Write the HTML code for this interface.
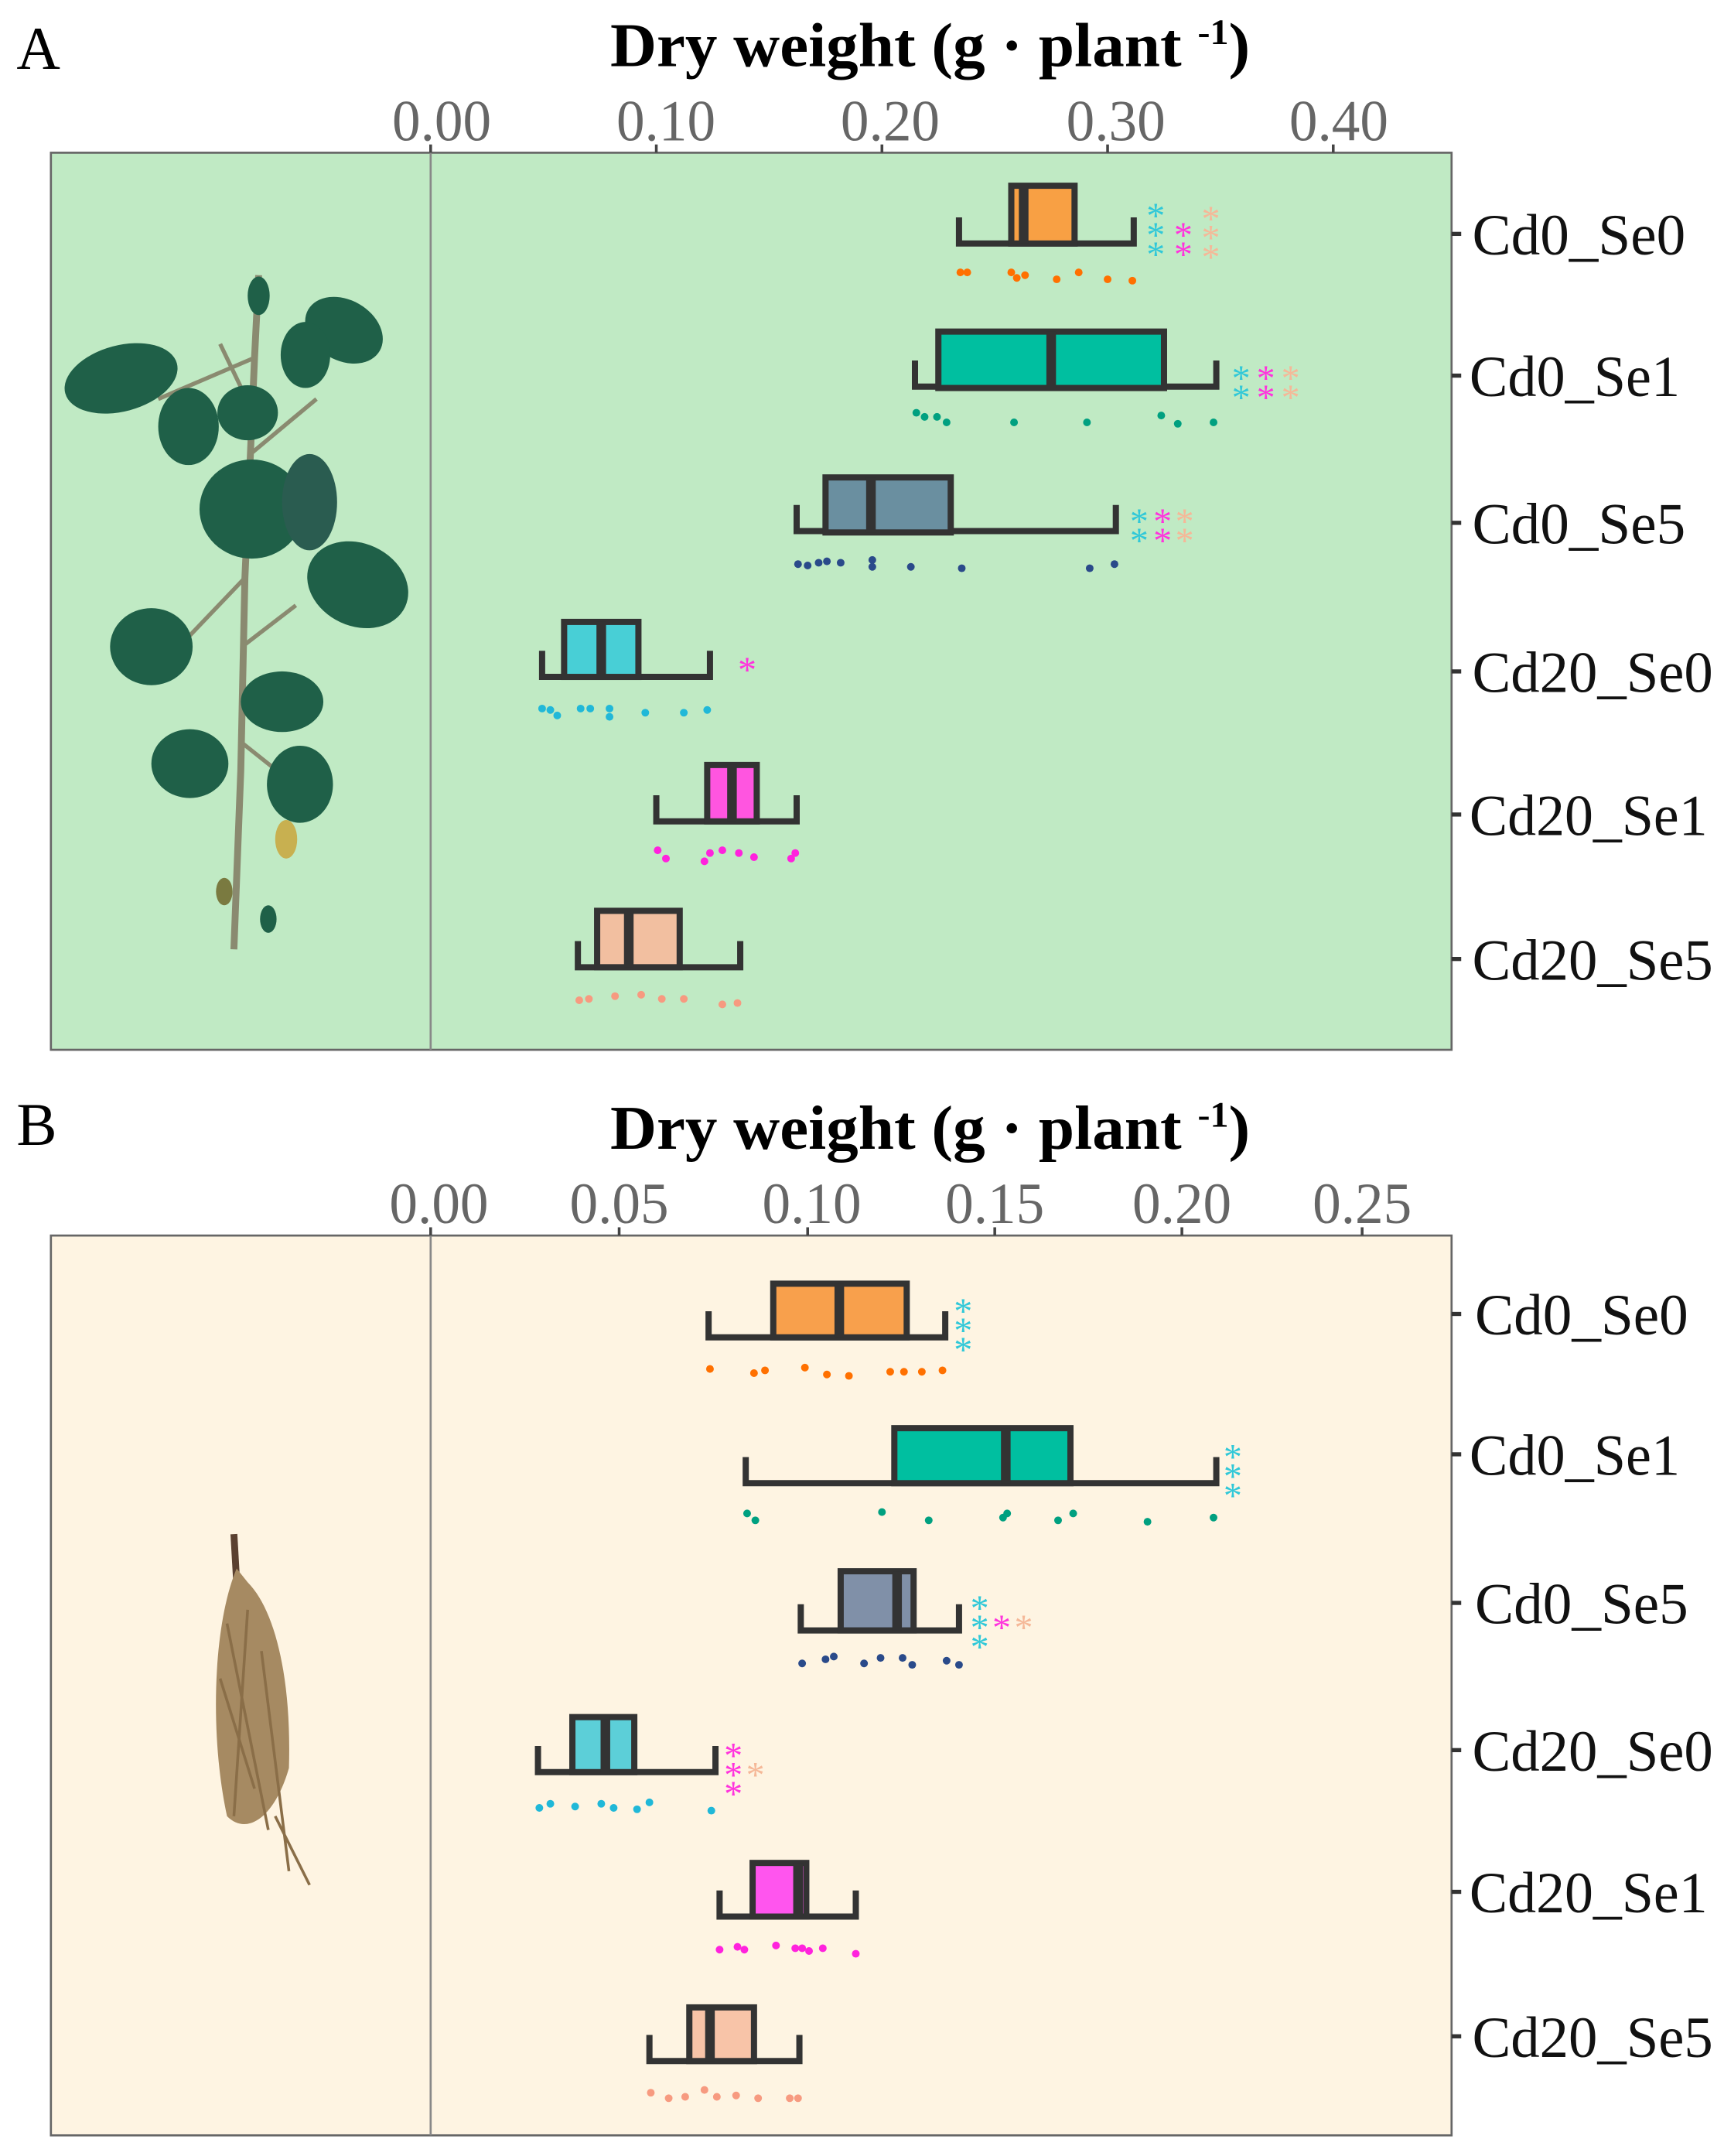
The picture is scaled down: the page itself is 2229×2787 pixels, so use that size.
<!DOCTYPE html>
<html><head><meta charset="utf-8"><style>
html,body{margin:0;padding:0;background:#fff;}
svg{display:block;}
text{font-family:"Liberation Serif",serif;}
.t{font-size:42px;fill:#666;text-anchor:middle;}
.c{font-size:42px;fill:#111;}
.h{font-size:45px;font-weight:bold;text-anchor:middle;fill:#000;}
.b{stroke:#333;stroke-width:4.5;}
.w{fill:none;stroke:#333;stroke-width:4.5;}
.m{stroke:#333;stroke-width:7;}
.s{font-size:27px;text-anchor:middle;font-family:"DejaVu Sans",sans-serif;}
</style></head><body>
<svg width="2229" height="2787" viewBox="0 0 1253 1567" preserveAspectRatio="none" xmlns="http://www.w3.org/2000/svg">
<!-- Panel A -->
<text x="12" y="50" style="font-size:44px">A</text>
<text x="676" y="48" class="h" textLength="465" lengthAdjust="spacingAndGlyphs">Dry weight (g · plant <tspan dy="-16" style="font-size:26px">-1</tspan><tspan dy="16">)</tspan></text>
<rect x="37" y="111" width="1018" height="652" fill="#C0EAC4" stroke="#666" stroke-width="1.5"/>
<line x1="313" y1="111" x2="313" y2="763" stroke="#888" stroke-width="1.5"/>
<g class="t">
<text x="321" y="102" textLength="72" lengthAdjust="spacingAndGlyphs">0.00</text><text x="484" y="102" textLength="72" lengthAdjust="spacingAndGlyphs">0.10</text><text x="647" y="102" textLength="72" lengthAdjust="spacingAndGlyphs">0.20</text><text x="811" y="102" textLength="72" lengthAdjust="spacingAndGlyphs">0.30</text><text x="973" y="102" textLength="72" lengthAdjust="spacingAndGlyphs">0.40</text>
</g>
<g stroke="#444" stroke-width="2"><line x1="313" y1="105" x2="313" y2="111"/><line x1="477" y1="105" x2="477" y2="111"/><line x1="641" y1="105" x2="641" y2="111"/><line x1="805" y1="105" x2="805" y2="111"/><line x1="969" y1="105" x2="969" y2="111"/></g>
<g class="c">
<text x="1070" y="185" textLength="155" lengthAdjust="spacingAndGlyphs">Cd0_Se0</text><text x="1068" y="288" textLength="153" lengthAdjust="spacingAndGlyphs">Cd0_Se1</text><text x="1070" y="395" textLength="155" lengthAdjust="spacingAndGlyphs">Cd0_Se5</text><text x="1070" y="503" textLength="175" lengthAdjust="spacingAndGlyphs">Cd20_Se0</text><text x="1068" y="607" textLength="173" lengthAdjust="spacingAndGlyphs">Cd20_Se1</text><text x="1070" y="712" textLength="175" lengthAdjust="spacingAndGlyphs">Cd20_Se5</text>
</g>
<g stroke="#333" stroke-width="3"><line x1="1055" y1="170" x2="1062" y2="170"/><line x1="1055" y1="273" x2="1062" y2="273"/><line x1="1055" y1="380" x2="1062" y2="380"/><line x1="1055" y1="488" x2="1062" y2="488"/><line x1="1055" y1="592" x2="1062" y2="592"/><line x1="1055" y1="697" x2="1062" y2="697"/></g>
<!-- plant -->
<g>
<path d="M170 690 L175 560 L178 420 L182 330 L185 260 L188 200" stroke="#8a8a70" stroke-width="5" fill="none"/>
<path d="M178 420 L135 465 M182 330 L230 290 M185 260 L115 290 M176 540 L220 575 M176 470 L215 440 M184 300 L160 250" stroke="#8a8a70" stroke-width="3" fill="none"/>
<g fill="#1f6048">
<ellipse cx="88" cy="275" rx="42" ry="24" transform="rotate(-15 88 275)"/>
<ellipse cx="137" cy="310" rx="22" ry="28"/>
<ellipse cx="183" cy="370" rx="38" ry="36"/>
<ellipse cx="225" cy="365" rx="20" ry="35" fill="#2a5c50"/>
<ellipse cx="250" cy="240" rx="30" ry="22" transform="rotate(30 250 240)"/>
<ellipse cx="222" cy="258" rx="18" ry="24"/>
<ellipse cx="260" cy="425" rx="38" ry="30" transform="rotate(25 260 425)"/>
<ellipse cx="110" cy="470" rx="30" ry="28"/>
<ellipse cx="205" cy="510" rx="30" ry="22"/>
<ellipse cx="138" cy="555" rx="28" ry="25"/>
<ellipse cx="218" cy="570" rx="24" ry="28"/>
<ellipse cx="180" cy="300" rx="22" ry="20"/>
<ellipse cx="188" cy="215" rx="8" ry="14"/>
<ellipse cx="195" cy="668" rx="6" ry="10"/>
<ellipse cx="163" cy="648" rx="6" ry="10" fill="#7a7a40"/>
</g>
<ellipse cx="208" cy="610" rx="8" ry="14" fill="#c8b050"/>
</g>
<!-- A boxes -->
<path class="w" d="M697 158 V177 H824 V158"/><rect x="735" y="135" width="46" height="42" fill="#F8A044" class="b"/><line class="m" x1="744" y1="135" x2="744" y2="177"/>
<path class="w" d="M665 262 V281 H884 V262"/><rect x="682" y="241" width="164" height="41" fill="#00BFA0" class="b"/><line class="m" x1="764" y1="241" x2="764" y2="282"/>
<path class="w" d="M579 367 V386 H811 V367"/><rect x="600" y="347" width="91" height="40" fill="#6A8FA0" class="b"/><line class="m" x1="633" y1="347" x2="633" y2="387"/>
<path class="w" d="M394 473 V492 H516 V473"/><rect x="410" y="452" width="54" height="40" fill="#48CFD6" class="b"/><line class="m" x1="437" y1="452" x2="437" y2="492"/>
<path class="w" d="M477 578 V597 H579 V578"/><rect x="514" y="556" width="36" height="41" fill="#FF55E0" class="b"/><line class="m" x1="532" y1="556" x2="532" y2="597"/>
<path class="w" d="M420 684 V703 H538 V684"/><rect x="434" y="662" width="60" height="41" fill="#F2BFA0" class="b"/><line class="m" x1="457" y1="662" x2="457" y2="703"/>
<!-- A dots -->
<g fill="#FF7000"><circle cx="698" cy="198" r="2.8"/><circle cx="703" cy="198" r="2.8"/><circle cx="735" cy="198" r="2.8"/><circle cx="739" cy="202" r="2.8"/><circle cx="745" cy="200" r="2.8"/><circle cx="768" cy="203" r="2.8"/><circle cx="784" cy="198" r="2.8"/><circle cx="805" cy="203" r="2.8"/><circle cx="823" cy="204" r="2.8"/></g>
<g fill="#00A080"><circle cx="666" cy="300" r="2.8"/><circle cx="672" cy="303" r="2.8"/><circle cx="681" cy="303" r="2.8"/><circle cx="688" cy="307" r="2.8"/><circle cx="737" cy="307" r="2.8"/><circle cx="790" cy="307" r="2.8"/><circle cx="844" cy="302" r="2.8"/><circle cx="856" cy="308" r="2.8"/><circle cx="882" cy="307" r="2.8"/></g>
<g fill="#2A4A8A"><circle cx="580" cy="410" r="2.8"/><circle cx="587" cy="411" r="2.8"/><circle cx="595" cy="409" r="2.8"/><circle cx="601" cy="408" r="2.8"/><circle cx="611" cy="409" r="2.8"/><circle cx="634" cy="412" r="2.8"/><circle cx="634" cy="407" r="2.8"/><circle cx="662" cy="412" r="2.8"/><circle cx="699" cy="413" r="2.8"/><circle cx="792" cy="413" r="2.8"/><circle cx="810" cy="410" r="2.8"/></g>
<g fill="#20B8D8"><circle cx="394" cy="515" r="2.8"/><circle cx="400" cy="516" r="2.8"/><circle cx="405" cy="520" r="2.8"/><circle cx="422" cy="515" r="2.8"/><circle cx="429" cy="515" r="2.8"/><circle cx="443" cy="515" r="2.8"/><circle cx="443" cy="521" r="2.8"/><circle cx="469" cy="518" r="2.8"/><circle cx="497" cy="518" r="2.8"/><circle cx="514" cy="516" r="2.8"/></g>
<g fill="#FF22DD"><circle cx="478" cy="618" r="2.8"/><circle cx="484" cy="624" r="2.8"/><circle cx="512" cy="626" r="2.8"/><circle cx="516" cy="620" r="2.8"/><circle cx="525" cy="618" r="2.8"/><circle cx="537" cy="620" r="2.8"/><circle cx="548" cy="623" r="2.8"/><circle cx="575" cy="624" r="2.8"/><circle cx="578" cy="620" r="2.8"/></g>
<g fill="#F79A80"><circle cx="421" cy="727" r="2.8"/><circle cx="428" cy="726" r="2.8"/><circle cx="447" cy="724" r="2.8"/><circle cx="466" cy="723" r="2.8"/><circle cx="481" cy="726" r="2.8"/><circle cx="497" cy="726" r="2.8"/><circle cx="525" cy="730" r="2.8"/><circle cx="536" cy="729" r="2.8"/></g>
<!-- A stars -->
<g class="s">
<text x="840" y="166" fill="#30C8D8">*</text><text x="840" y="180" fill="#30C8D8">*</text><text x="840" y="194" fill="#30C8D8">*</text>
<text x="860" y="180" fill="#FF33DD">*</text><text x="860" y="194" fill="#FF33DD">*</text>
<text x="880" y="168" fill="#F5B898">*</text><text x="880" y="182" fill="#F5B898">*</text><text x="880" y="196" fill="#F5B898">*</text>
<text x="902" y="284" fill="#30C8D8">*</text><text x="902" y="298" fill="#30C8D8">*</text><text x="920" y="284" fill="#FF33DD">*</text><text x="920" y="298" fill="#FF33DD">*</text><text x="938" y="284" fill="#F5B898">*</text><text x="938" y="298" fill="#F5B898">*</text>
<text x="828" y="388" fill="#30C8D8">*</text><text x="828" y="402" fill="#30C8D8">*</text><text x="845" y="388" fill="#FF33DD">*</text><text x="845" y="402" fill="#FF33DD">*</text><text x="861" y="388" fill="#F5B898">*</text><text x="861" y="402" fill="#F5B898">*</text>
<text x="543" y="496" fill="#FF33DD">*</text>
</g>

<!-- Panel B -->
<text x="12" y="832" style="font-size:44px">B</text>
<text x="676" y="835" class="h" textLength="465" lengthAdjust="spacingAndGlyphs">Dry weight (g · plant <tspan dy="-16" style="font-size:26px">-1</tspan><tspan dy="16">)</tspan></text>
<rect x="37" y="898" width="1018" height="654" fill="#FEF4E2" stroke="#666" stroke-width="1.5"/>
<line x1="313" y1="898" x2="313" y2="1552" stroke="#888" stroke-width="1.5"/>
<g class="t">
<text x="319" y="889" textLength="72" lengthAdjust="spacingAndGlyphs">0.00</text><text x="450" y="889" textLength="72" lengthAdjust="spacingAndGlyphs">0.05</text><text x="590" y="889" textLength="72" lengthAdjust="spacingAndGlyphs">0.10</text><text x="723" y="889" textLength="72" lengthAdjust="spacingAndGlyphs">0.15</text><text x="859" y="889" textLength="72" lengthAdjust="spacingAndGlyphs">0.20</text><text x="990" y="889" textLength="72" lengthAdjust="spacingAndGlyphs">0.25</text>
</g>
<g stroke="#444" stroke-width="2"><line x1="313" y1="892" x2="313" y2="898"/><line x1="450" y1="892" x2="450" y2="898"/><line x1="587" y1="892" x2="587" y2="898"/><line x1="723" y1="892" x2="723" y2="898"/><line x1="859" y1="892" x2="859" y2="898"/><line x1="990" y1="892" x2="990" y2="898"/></g>
<g class="c">
<text x="1072" y="970" textLength="155" lengthAdjust="spacingAndGlyphs">Cd0_Se0</text><text x="1068" y="1072" textLength="153" lengthAdjust="spacingAndGlyphs">Cd0_Se1</text><text x="1072" y="1180" textLength="155" lengthAdjust="spacingAndGlyphs">Cd0_Se5</text><text x="1070" y="1287" textLength="175" lengthAdjust="spacingAndGlyphs">Cd20_Se0</text><text x="1068" y="1390" textLength="173" lengthAdjust="spacingAndGlyphs">Cd20_Se1</text><text x="1070" y="1495" textLength="175" lengthAdjust="spacingAndGlyphs">Cd20_Se5</text>
</g>
<g stroke="#333" stroke-width="3"><line x1="1055" y1="955" x2="1062" y2="955"/><line x1="1055" y1="1057" x2="1062" y2="1057"/><line x1="1055" y1="1165" x2="1062" y2="1165"/><line x1="1055" y1="1272" x2="1062" y2="1272"/><line x1="1055" y1="1375" x2="1062" y2="1375"/><line x1="1055" y1="1480" x2="1062" y2="1480"/></g>
<!-- root -->
<g>
<path d="M170 1115 L172 1150" stroke="#5a4030" stroke-width="5"/>
<path d="M172 1140 C155 1180 152 1260 165 1320 C180 1335 200 1320 210 1285 C212 1220 200 1170 180 1150 Z" fill="#a68a62"/>
<path d="M165 1180 L195 1330 M180 1170 L170 1320 M190 1200 L210 1360 M200 1320 L225 1370 M160 1220 L185 1300" stroke="#8a6e48" stroke-width="2" fill="none"/>
</g>
<!-- B boxes -->
<path class="w" d="M515 953 V972 H687 V953"/><rect x="562" y="933" width="97" height="39" fill="#F8A04C" class="b"/><line class="m" x1="610" y1="933" x2="610" y2="972"/>
<path class="w" d="M542 1059 V1078 H884 V1059"/><rect x="650" y="1038" width="128" height="40" fill="#00BFA0" class="b"/><line class="m" x1="731" y1="1038" x2="731" y2="1078"/>
<path class="w" d="M582 1166 V1185 H697 V1166"/><rect x="611" y="1142" width="53" height="43" fill="#8090A8" class="b"/><line class="m" x1="652" y1="1142" x2="652" y2="1185"/>
<path class="w" d="M391 1269 V1288 H520 V1269"/><rect x="416" y="1248" width="45" height="40" fill="#5CCFD8" class="b"/><line class="m" x1="440" y1="1248" x2="440" y2="1288"/>
<path class="w" d="M523 1374 V1393 H622 V1374"/><rect x="547" y="1354" width="39" height="39" fill="#FF55EE" class="b"/><line class="m" x1="580" y1="1354" x2="580" y2="1393"/>
<path class="w" d="M472 1479 V1498 H581 V1479"/><rect x="501" y="1459" width="47" height="39" fill="#F8C4A8" class="b"/><line class="m" x1="516" y1="1459" x2="516" y2="1498"/>
<!-- B dots -->
<g fill="#FF7000"><circle cx="516" cy="995" r="2.8"/><circle cx="548" cy="998" r="2.8"/><circle cx="556" cy="996" r="2.8"/><circle cx="585" cy="994" r="2.8"/><circle cx="601" cy="999" r="2.8"/><circle cx="617" cy="1000" r="2.8"/><circle cx="647" cy="997" r="2.8"/><circle cx="657" cy="997" r="2.8"/><circle cx="670" cy="997" r="2.8"/><circle cx="685" cy="996" r="2.8"/></g>
<g fill="#00A080"><circle cx="543" cy="1100" r="2.8"/><circle cx="549" cy="1105" r="2.8"/><circle cx="641" cy="1099" r="2.8"/><circle cx="675" cy="1105" r="2.8"/><circle cx="729" cy="1103" r="2.8"/><circle cx="732" cy="1100" r="2.8"/><circle cx="769" cy="1105" r="2.8"/><circle cx="780" cy="1100" r="2.8"/><circle cx="834" cy="1106" r="2.8"/><circle cx="882" cy="1103" r="2.8"/></g>
<g fill="#2A4A8A"><circle cx="583" cy="1209" r="2.8"/><circle cx="600" cy="1206" r="2.8"/><circle cx="606" cy="1204" r="2.8"/><circle cx="628" cy="1209" r="2.8"/><circle cx="640" cy="1205" r="2.8"/><circle cx="656" cy="1205" r="2.8"/><circle cx="663" cy="1210" r="2.8"/><circle cx="688" cy="1207" r="2.8"/><circle cx="697" cy="1210" r="2.8"/></g>
<g fill="#20B8D8"><circle cx="392" cy="1314" r="2.8"/><circle cx="400" cy="1311" r="2.8"/><circle cx="418" cy="1313" r="2.8"/><circle cx="437" cy="1311" r="2.8"/><circle cx="446" cy="1314" r="2.8"/><circle cx="463" cy="1315" r="2.8"/><circle cx="472" cy="1310" r="2.8"/><circle cx="517" cy="1316" r="2.8"/></g>
<g fill="#FF22DD"><circle cx="523" cy="1417" r="2.8"/><circle cx="536" cy="1415" r="2.8"/><circle cx="541" cy="1417" r="2.8"/><circle cx="564" cy="1414" r="2.8"/><circle cx="578" cy="1416" r="2.8"/><circle cx="583" cy="1416" r="2.8"/><circle cx="588" cy="1418" r="2.8"/><circle cx="598" cy="1416" r="2.8"/><circle cx="622" cy="1420" r="2.8"/></g>
<g fill="#F79A80"><circle cx="473" cy="1521" r="2.8"/><circle cx="486" cy="1525" r="2.8"/><circle cx="498" cy="1524" r="2.8"/><circle cx="512" cy="1519" r="2.8"/><circle cx="521" cy="1524" r="2.8"/><circle cx="535" cy="1523" r="2.8"/><circle cx="551" cy="1525" r="2.8"/><circle cx="574" cy="1525" r="2.8"/><circle cx="580" cy="1525" r="2.8"/></g>
<!-- B stars -->
<g class="s">
<text x="700" y="962" fill="#30C8D8">*</text><text x="700" y="976" fill="#30C8D8">*</text><text x="700" y="990" fill="#30C8D8">*</text>
<text x="896" y="1068" fill="#30C8D8">*</text><text x="896" y="1082" fill="#30C8D8">*</text><text x="896" y="1096" fill="#30C8D8">*</text>
<text x="712" y="1178" fill="#30C8D8">*</text><text x="712" y="1192" fill="#30C8D8">*</text><text x="712" y="1206" fill="#30C8D8">*</text><text x="728" y="1192" fill="#FF33DD">*</text><text x="744" y="1192" fill="#F5B898">*</text>
<text x="533" y="1285" fill="#FF33DD">*</text><text x="533" y="1299" fill="#FF33DD">*</text><text x="533" y="1313" fill="#FF33DD">*</text><text x="549" y="1299" fill="#F5B898">*</text>
</g>
</svg>
</body></html>
